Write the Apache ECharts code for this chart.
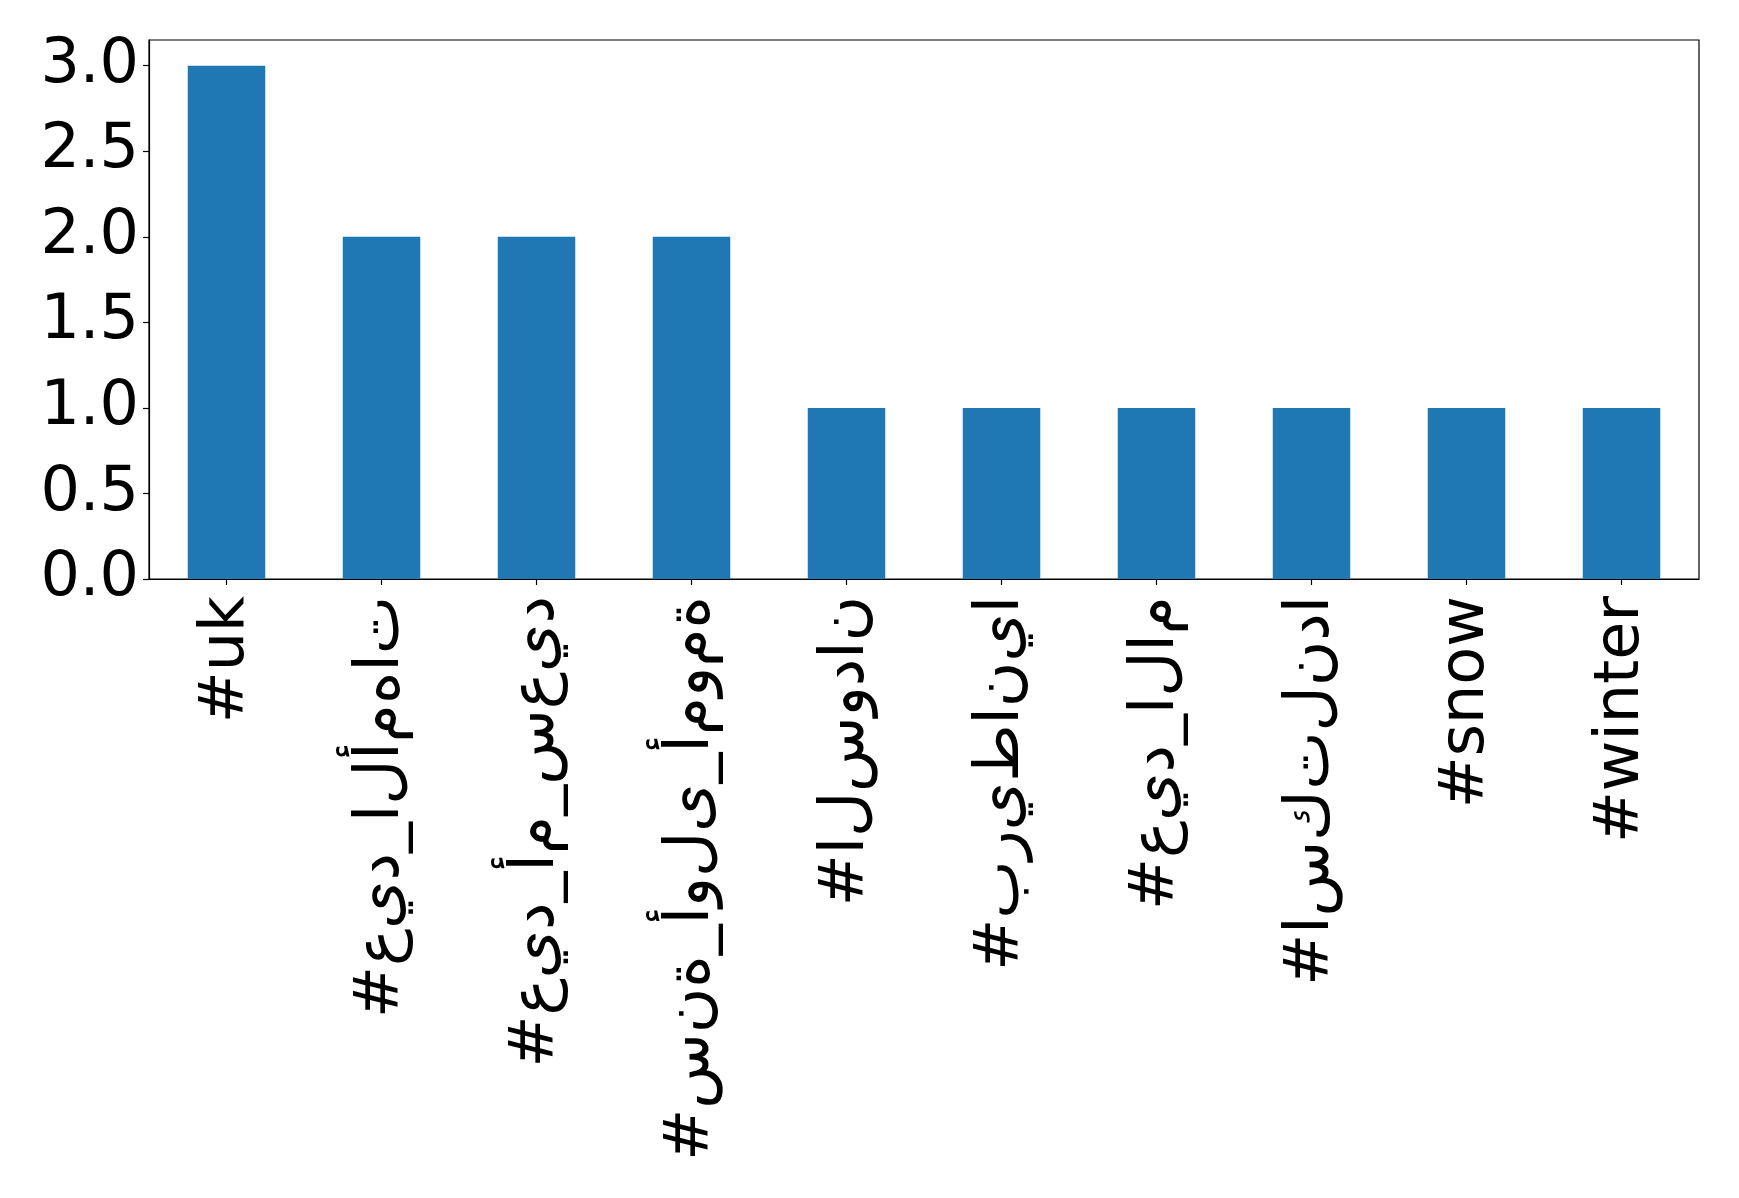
<!DOCTYPE html>
<html>
<head>
<meta charset="utf-8">
<script src="https://cdn.jsdelivr.net/npm/echarts@6/dist/echarts.min.js"></script>
<style>
html,body{margin:0;padding:0;background:#fff;}
#chart{width:1739px;height:1198px;}
</style>
</head>
<body>
<div id="chart"></div>
<script>
const categories = ['#uk', '#عيد_الأمهات', '#عيد_أم_سعيد', '#سنة_أولى_أمومة', '#السودان', '#بريطانيا', '#عيد_الام', '#اسكتلندا', '#snow', '#winter'];
const counts = [3, 2, 2, 2, 1, 1, 1, 1, 1, 1];
const yTicks = [0, 0.5, 1.0, 1.5, 2.0, 2.5, 3.0];

// Reproduce the reference's left-to-right, unjoined letter display
function displayLabel(s) {
  return '\u202D' + Array.from(s).join('\u200C') + '\u202C';
}

const chart = echarts.init(document.getElementById('chart'), null, {renderer: 'canvas'});
chart.setOption({
  animation: false,
  backgroundColor: '#ffffff',
  grid: {
    left: 149, right: 40, top: 40, bottom: 619,
    show: true, borderColor: '#000', borderWidth: 1.2, backgroundColor: 'transparent'
  },
  xAxis: {
    type: 'category',
    data: categories,
    boundaryGap: true,
    axisLine: {show: true, lineStyle: {color: '#000', width: 1.2}},
    axisTick: {show: true, alignWithLabel: true, length: 6, lineStyle: {color: '#000', width: 1.2}},
    axisLabel: {
      rotate: 90, margin: 17, interval: 0,
      fontFamily: 'DejaVu Sans', fontSize: 62, color: '#000',
      formatter: v => displayLabel(v)
    },
    splitLine: {show: false}
  },
  yAxis: {
    type: 'value',
    min: 0, max: 3.15, interval: 0.5,
    axisLine: {show: true, lineStyle: {color: '#000', width: 1.2}},
    axisTick: {show: true, length: 6, customValues: yTicks, lineStyle: {color: '#000', width: 1.2}},
    axisLabel: {
      margin: 10, fontFamily: 'DejaVu Sans', fontSize: 62, color: '#000',
      customValues: yTicks,
      formatter: v => v.toFixed(1)
    },
    splitLine: {show: false}
  },
  series: [{
    type: 'bar',
    data: counts,
    barWidth: '50%',
    itemStyle: {color: '#1f77b4'}
  }]
});
</script>
</body>
</html>
